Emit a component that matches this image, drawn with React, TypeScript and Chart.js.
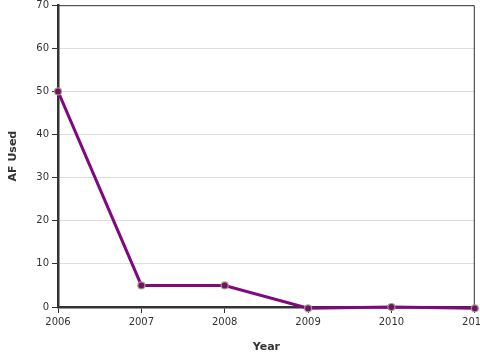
import React, { useEffect, useRef } from "react";
import { Chart, registerables } from "chart.js";

Chart.register(...registerables);

const years = [2006, 2007, 2008, 2009, 2010, 2011];
const afUsed = [50, 5, 5, -0.3, 0, -0.3];
const yTickMax = 70;
const yTickStep = 10;
const xTitle = "Year";
const yTitle = "AF Used";

const FONT = "'DejaVu Sans', sans-serif";
const TEXT = "#333333";

const frame = {
  id: "frame",
  beforeDatasetsDraw(chart: any) {
    const { ctx, chartArea } = chart;
    ctx.save();
    ctx.strokeStyle = "#333333";
    ctx.lineWidth = 1;
    ctx.beginPath();
    ctx.moveTo(chartArea.left, chartArea.top + 0.5);
    ctx.lineTo(chartArea.right - 0.5, chartArea.top + 0.5);
    ctx.lineTo(chartArea.right - 0.5, chartArea.bottom);
    ctx.stroke();
    ctx.restore();
  },
};

export default function App() {
  const ref = useRef<HTMLCanvasElement | null>(null);
  useEffect(() => {
    if (!ref.current) return;
    const chart = new Chart(ref.current, {
      type: "line",
      data: {
        datasets: [
          {
            data: years.map((y, i) => ({ x: y, y: afUsed[i] })),
            borderColor: "#7f0a7f",
            borderWidth: 3,
            pointRadius: 3.5,
            pointBackgroundColor: "#6e1466",
            pointBorderColor: "rgba(170,160,130,0.9)",
            pointBorderWidth: 1.2,
            tension: 0,
            clip: false as any,
          },
        ],
      },
      options: {
        animation: false,
        responsive: false,
        layout: { padding: { top: 4, right: 3, left: 0, bottom: 0 } },
        plugins: { legend: { display: false }, tooltip: { enabled: false } },
        scales: {
          x: {
            type: "linear",
            min: years[0],
            max: years[years.length - 1],
            afterFit(scale: any) {
              scale.height = 53;
              scale.paddingLeft = 0;
              scale.paddingRight = 0;
            },
            ticks: {
              stepSize: 1,
              color: TEXT,
              font: { family: FONT, size: 10 },
              padding: 3,
              maxRotation: 0,
              callback: (v: any) => String(v),
            },
            grid: {
              drawOnChartArea: false,
              tickLength: 6,
              tickColor: "#333333",
              tickWidth: 1,
            },
            border: { color: "#333333", width: 2.5 },
            title: {
              display: true,
              text: xTitle,
              color: TEXT,
              font: { family: FONT, size: 11, weight: "bold" },
              padding: { top: 0, bottom: 6 },
            },
          },
          y: {
            min: 0,
            max: yTickMax,
            afterFit(scale: any) {
              scale.width = 58;
              scale.paddingTop = 0;
              scale.paddingBottom = 0;
            },
            ticks: {
              stepSize: yTickStep,
              color: TEXT,
              font: { family: FONT, size: 10 },
              padding: 3,
            },
            grid: {
              color: "#dddddd",
              tickLength: 6,
              tickColor: "#333333",
              tickWidth: 1,
            },
            border: { color: "#333333", width: 2.5 },
            title: {
              display: true,
              text: yTitle,
              color: TEXT,
              font: { family: FONT, size: 11, weight: "bold" },
              padding: { top: 7, bottom: 0 },
            },
          },
        },
      },
      plugins: [frame],
    } as any);
    return () => chart.destroy();
  }, []);
  return (
    <div style={{ position: "fixed", left: 0, top: 0, width: 480, height: 360, background: "#fff" }}>
      <canvas ref={ref} width={480} height={360} />
    </div>
  );
}
